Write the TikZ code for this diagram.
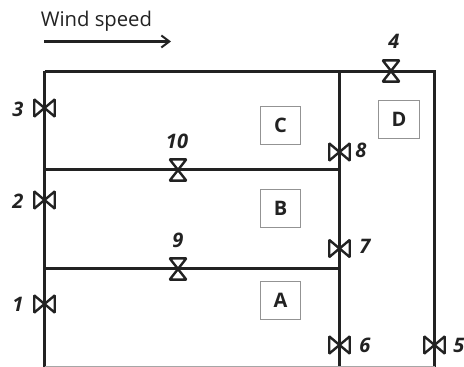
\documentclass[tikz,border=0pt]{standalone}
\usepackage{fontspec}
\setmainfont{Open Sans}
\usetikzlibrary{arrows.meta}
\definecolor{ink}{HTML}{222222}
\tikzset{
  x=0.75pt,y=-0.75pt,
  wall/.style={draw=ink,line width=1.9pt},
  thinwall/.style={draw=ink,line width=1.6pt},
  valveshape/.style={draw=ink,line width=1.8pt,line join=miter,miter limit=2},
  valveh/.style={inner sep=0pt,minimum width=15pt,minimum height=12.5pt},
  valvev/.style={inner sep=0pt,minimum width=12pt,minimum height=15.5pt},
  zone/.style={draw=gray!85,line width=0.9pt,inner sep=0pt,minimum width=30.5pt,minimum height=29pt,font=\fontsize{15}{16}\selectfont\bfseries,text=ink},
  num/.style={inner sep=0pt,font=\fontsize{15}{16}\selectfont\bfseries\itshape,text=ink},
  caption/.style={inner sep=0pt,font=\fontsize{15.2}{16}\selectfont,text=ink},
  wind/.style={draw=ink,line width=1.7pt,-{Straight Barb[length=6pt,width=9pt,line width=1.5pt]}}
}
\begin{document}
\begin{tikzpicture}
\useasboundingbox (0,0) rectangle (464,367);
\coordinate (nw) at (44.5,71.5);
\coordinate (ne) at (434.5,71.5);
\coordinate (sw) at (44.5,366.5);
\coordinate (se) at (434.5,366.5);
\coordinate (nm) at (339.5,71.5);
\coordinate (sm) at (339.5,366.5);
\coordinate (ml1) at (44.5,169.5);
\coordinate (mr1) at (339.5,169.5);
\coordinate (ml2) at (44.5,268.5);
\coordinate (mr2) at (339.5,268.5);
\coordinate (w1) at (44,41.5);
\coordinate (w2) at (171,41.5);

\draw[wall] (nw) -- (ne) -- (se);
\draw[wall] (nw) -- (sw);
\draw[wall] (nm) -- (sm);
\draw[draw=gray!70,line width=0.8pt] (sw) -- (se);
\draw[thinwall] (ml1) -- (mr1);
\draw[thinwall] (ml2) -- (mr2);
\draw[wind] (w1) -- (w2);

\node[caption,anchor=west] (cap) at (40.5,21) {Wind speed};

\foreach \n/\x/\y in {3/44.5/108,2/44.5/200,1/44.5/304,8/339.5/152,7/339.5/248.5,6/339.5/345,5/434.5/345}{
  \node[valveh] (v\n) at (\x,\y) {};
  \draw[valveshape] (v\n.north west) -- (v\n.south east) -- (v\n.north east) -- (v\n.south west) -- cycle;
}
\foreach \n/\x/\y in {10/178/170,9/178/269,4/391/71}{
  \node[valvev] (v\n) at (\x,\y) {};
  \draw[valveshape] (v\n.north west) -- (v\n.south east) -- (v\n.south west) -- (v\n.north east) -- cycle;
}

\node[zone] (C) at (280.5,125.5) {C};
\node[zone] (D) at (399,119.5) {D};
\node[zone] (B) at (280.5,208.5) {B};
\node[zone] (A) at (280.5,300.5) {A};

\node[num] (n3) at (18,109) {3};
\node[num] (n2) at (18,201) {2};
\node[num] (n1) at (18,304) {1};
\node[num] (n10) at (177,141) {10};
\node[num] (n9) at (178,240) {9};
\node[num] (n4) at (394,41) {4};
\node[num] (n8) at (361,150) {8};
\node[num] (n7) at (365,246.5) {7};
\node[num] (n6) at (365,345) {6};
\node[num] (n5) at (459,345) {5};
\end{tikzpicture}
\end{document}
